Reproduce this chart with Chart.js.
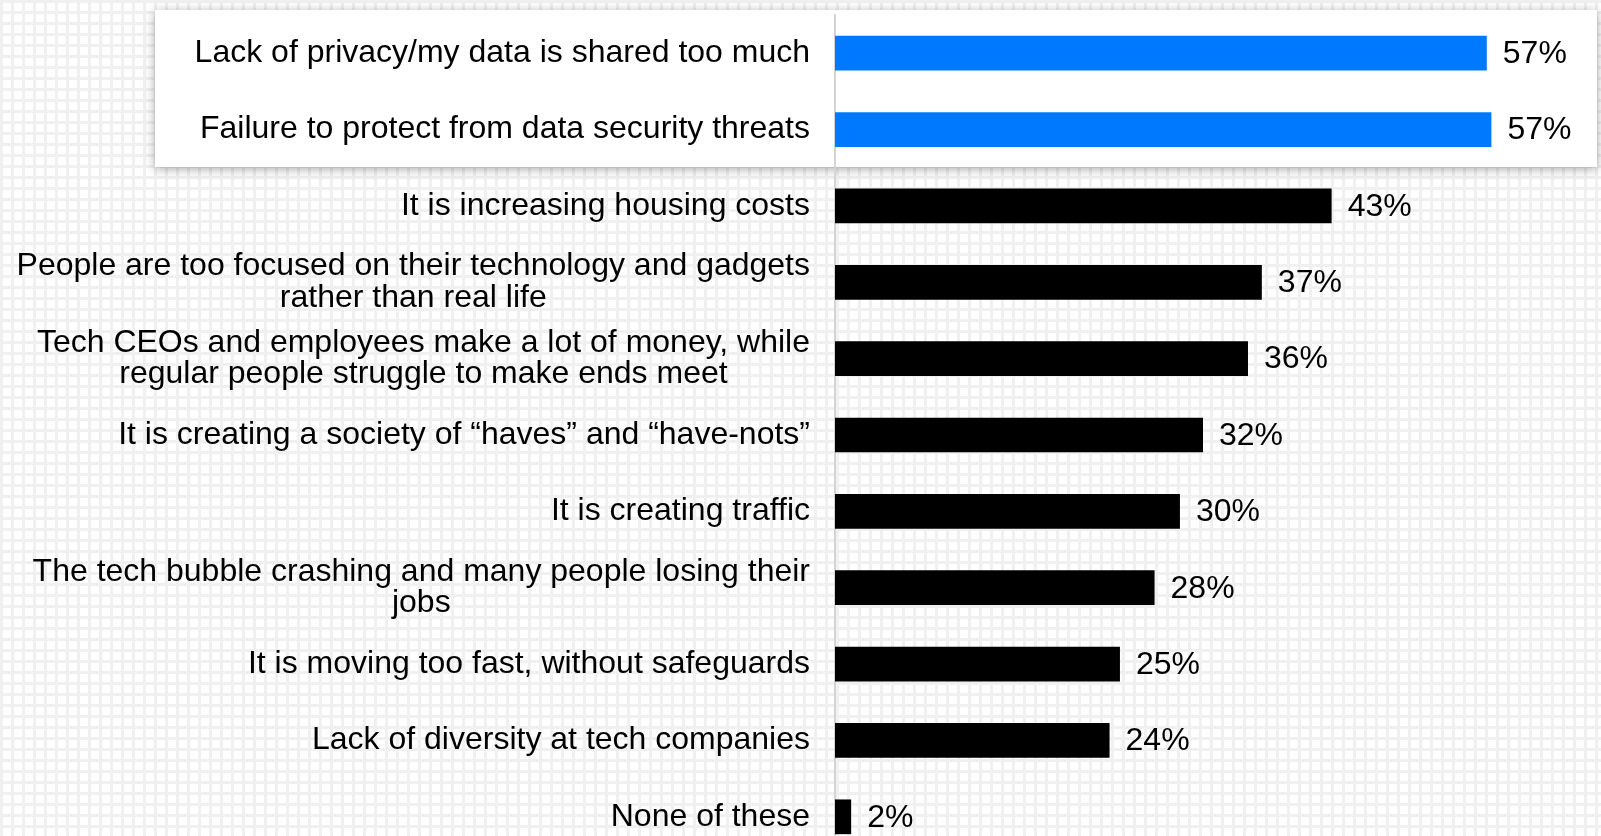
<!DOCTYPE html>
<html><head><meta charset="utf-8">
<script src="https://cdn.jsdelivr.net/npm/chart.js@4"></script>
<style>
html,body{margin:0;padding:0;overflow:hidden;width:1601px;height:836px;}
body{background-color:#ffffff;background-image:linear-gradient(#f0f0f0 3px, transparent 3px),linear-gradient(90deg,#f0f0f0 3px,transparent 3px);background-size:11px 11px;}
#wrap{position:absolute;left:0;top:0;width:1601px;height:855px;}
</style></head><body>
<div id="wrap"><canvas id="c"></canvas></div>
<script>
const categories = [
  "Lack of privacy/my data is shared too much",
  "Failure to protect from data security threats",
  "It is increasing housing costs",
  ["People are too focused on their technology and gadgets", "rather than real life"],
  ["Tech CEOs and employees make a lot of money, while", "regular people struggle to make ends meet"],
  "It is creating a society of \u201chaves\u201d and \u201chave-nots\u201d",
  "It is creating traffic",
  ["The tech bubble crashing and many people losing their", "jobs"],
  "It is moving too fast, without safeguards",
  "Lack of diversity at tech companies",
  "None of these"
];
const values = [56.5, 56.9, 43.05, 37.0, 35.8, 31.9, 29.9, 27.7, 24.7, 23.8, 1.4];
const valueLabels = ["57%", "57%", "43%", "37%", "36%", "32%", "30%", "28%", "25%", "24%", "2%"];
const highlighted = [true, true, false, false, false, false, false, false, false, false, false];

const FONT = '32px "Liberation Sans", Arial, Helvetica, sans-serif';

const decor = {
  id: 'decor',
  beforeDraw(chart) {
    const ctx = chart.ctx;
    ctx.save();
    ctx.shadowColor = 'rgba(0,0,0,0.35)';
    ctx.shadowBlur = 10;
    ctx.shadowOffsetY = 2;
    ctx.fillStyle = '#ffffff';
    ctx.fillRect(155, 10, 1442, 157);
    ctx.restore();
  },
  afterDraw(chart) {
    const ctx = chart.ctx;
    const y = chart.scales.y;
    ctx.save();
    ctx.font = FONT;
    ctx.fillStyle = '#000';
    ctx.textBaseline = 'middle';
    ctx.textAlign = 'center';
    const right = chart.chartArea.left - 25;
    const lh = 31.5;
    categories.forEach((lab, i) => {
      const lines = Array.isArray(lab) ? lab : [lab];
      const cy = y.getPixelForValue(i);
      const w = Math.max(...lines.map(l => ctx.measureText(l).width));
      lines.forEach((l, j) => {
        ctx.fillText(l, right - w / 2, cy + (j - (lines.length - 1) / 2) * lh);
      });
    });
    const meta = chart.getDatasetMeta(0);
    ctx.textAlign = 'left';
    meta.data.forEach((el, i) => {
      ctx.fillText(valueLabels[i], el.x + 16, el.y + 1);
    });
    ctx.restore();
  }
};

new Chart(document.getElementById('c'), {
  type: 'bar',
  data: {
    labels: categories,
    datasets: [{
      data: values,
      backgroundColor: highlighted.map(h => h ? '#0079FF' : '#000000'),
      borderWidth: 0,
      barPercentage: 0.455,
      categoryPercentage: 1
    }]
  },
  options: {
    indexAxis: 'y',
    responsive: true,
    maintainAspectRatio: false,
    animation: false,
    layout: { padding: { top: 15, left: 0, right: 0, bottom: 0 } },
    plugins: { legend: { display: false }, tooltip: { enabled: false } },
    scales: {
      x: { display: false, min: 0, max: 66.4 },
      y: {
        grid: { display: false },
        border: { display: true, color: '#d4d4d4', width: 2 },
        ticks: { display: false },
        afterFit(scale) { scale.width = 835; }
      }
    }
  },
  plugins: [decor]
});
</script>
</body></html>
